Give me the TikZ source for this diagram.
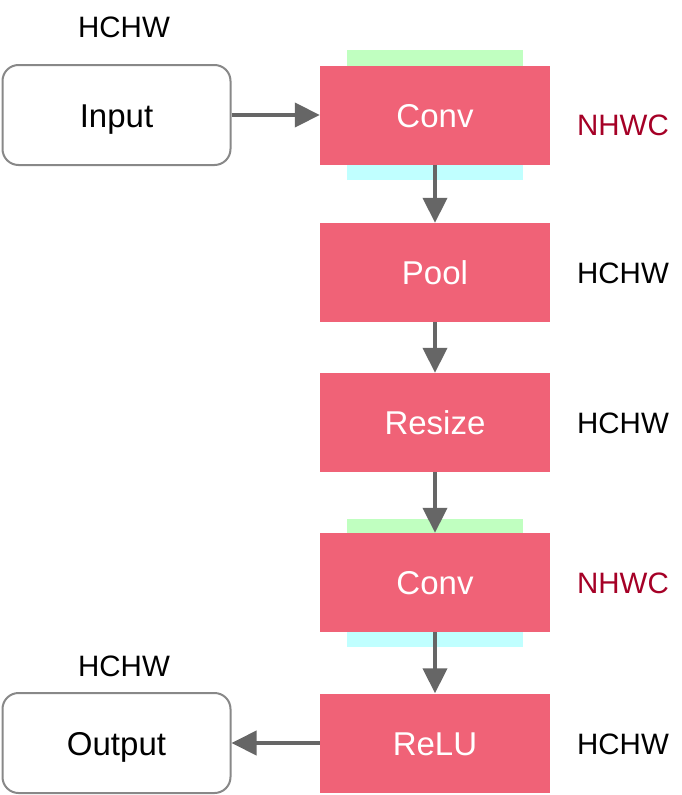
\documentclass[tikz,border=0pt]{standalone}
\usepackage{fontspec}
\setmainfont{Liberation Sans}
\usetikzlibrary{arrows.meta}
\definecolor{opfill}{HTML}{F06277}
\definecolor{ingreen}{HTML}{C0FFC0}
\definecolor{outcyan}{HTML}{C0FFFF}
\definecolor{nhwcred}{HTML}{A50026}
\definecolor{linegray}{HTML}{666666}
\definecolor{boxgray}{HTML}{888888}
\tikzset{
  opbox/.style={rectangle, fill=opfill, text=white, minimum width=230pt, minimum height=99pt, inner sep=0pt, text height=24pt, text depth=0pt, font=\fontsize{33}{38}\selectfont},
  iobox/.style={rectangle, rounded corners=16pt, draw=boxgray, line width=2pt, fill=white, minimum width=228pt, minimum height=100pt, inner sep=0pt, text height=24pt, text depth=0pt, font=\fontsize{33}{38}\selectfont},
  fmtlabel/.style={font=\fontsize{29.5}{34}\selectfont, inner sep=0pt, text height=21pt, text depth=0pt},
  flow/.style={draw=linegray, line width=4pt, -{Triangle[length=25pt,width=24pt]}},
  strip/.style={rectangle, inner sep=0pt, minimum width=176pt, minimum height=16pt}
}
\begin{document}
\begin{tikzpicture}[x=1pt,y=-1pt]
\useasboundingbox (0,0) rectangle (681,795);
% strips
\node[strip, fill=ingreen] (g1) at (435,58) {};
\node[strip, fill=outcyan] (c1) at (435,172) {};
\node[strip, fill=ingreen] (g2) at (435,527) {};
\node[strip, fill=outcyan] (c2) at (435,639) {};
% io boxes
\node[iobox] (input) at (116.5,115) {Input};
\node[iobox] (output) at (116.5,743) {Output};
% ops
\node[opbox] (conv1) at (435,115) {Conv};
\node[opbox] (pool) at (435,272.5) {Pool};
\node[opbox] (resize) at (435,422.5) {Resize};
\node[opbox] (conv2) at (435,582.5) {Conv};
\node[opbox] (relu) at (435,743) {ReLU};
% labels
\node[fmtlabel] (l0) at (124,27) {HCHW};
\node[fmtlabel, text=nhwcred] (l1) at (623,125) {NHWC};
\node[fmtlabel] (l2) at (623,273) {HCHW};
\node[fmtlabel] (l3) at (623,423) {HCHW};
\node[fmtlabel, text=nhwcred] (l4) at (623,583) {NHWC};
\node[fmtlabel] (l5) at (124,666) {HCHW};
\node[fmtlabel] (l6) at (623,744) {HCHW};
% arrows
\draw[flow] (input.east) -- (conv1.west);
\draw[flow] (conv1.south) -- (pool.north);
\draw[flow] (pool.south) -- (resize.north);
\draw[flow] (resize.south) -- (conv2.north);
\draw[flow] (conv2.south) -- (relu.north);
\draw[flow] (relu.west) -- (output.east);
\end{tikzpicture}
\end{document}
